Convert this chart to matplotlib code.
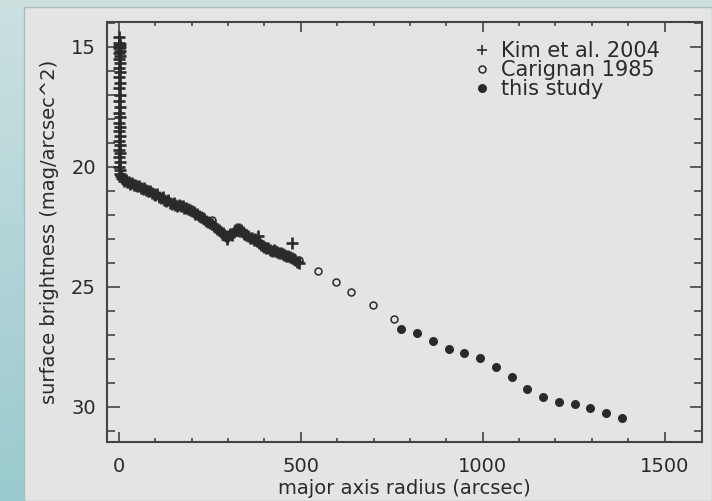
import numpy as np
import matplotlib
matplotlib.use("Agg")
import matplotlib.pyplot as plt
from matplotlib.patches import Rectangle

# Kim et al. 2004: steep central spike at r ~ 0
kim_core_r = [0.5, 1, 2, 0, 1.5, 1, 2, 1, 2, 1, 2, 1, 2, 1, 2, 1, 2, 1, 2, 1,
              2, 1, 2, 1, 2, 1, 2, 1, 2, 1, 2]
kim_core_mu = [14.6, 14.85, 14.9, 14.95, 15.0, 15.05, 15.17, 15.28, 15.39, 15.53,
               15.69, 15.9, 16.04, 16.25, 16.5, 16.73, 17.01, 17.25, 17.5, 17.75,
               17.94, 18.17, 18.33, 18.5, 18.72, 18.93, 19.1, 19.3, 19.44, 19.61,
               19.8]
# Kim et al. 2004: main profile
kim_r = [1, 2, 3, 6, 9, 12, 15, 19, 23, 27, 31, 35, 40, 45, 50, 55, 60, 65, 70,
         75, 80, 85, 90, 95, 100, 105, 110, 115, 120, 125, 130, 135, 140, 145,
         150, 155, 160, 165, 170, 175, 180, 185, 190, 195, 200, 205, 210, 215,
         220, 225, 230, 235, 240, 245, 250, 255, 260, 265, 270, 275, 280, 285,
         290, 295, 300, 305, 310, 315, 320, 325, 330, 335, 340, 345, 350, 355,
         360, 365, 370, 375, 380, 385, 390, 395, 400, 405, 410, 415, 420, 425,
         430, 435, 440, 445, 450, 455, 460, 465, 470, 475, 480, 485, 490, 495]
kim_mu = [20.0, 20.14, 20.3, 20.4, 20.45, 20.5, 20.58, 20.55, 20.65, 20.62,
          20.7, 20.68, 20.75, 20.78, 20.82, 20.8, 20.88, 20.92, 20.9, 20.98,
          21.02, 21.0, 21.1, 21.12, 21.18, 21.15, 21.25, 21.3, 21.28, 21.38,
          21.42, 21.4, 21.5, 21.55, 21.52, 21.58, 21.62, 21.58, 21.65, 21.62,
          21.7, 21.72, 21.76, 21.8, 21.85, 21.88, 21.95, 21.98, 22.05, 22.08,
          22.15, 22.18, 22.25, 22.3, 22.35, 22.4, 22.48, 22.52, 22.6, 22.65,
          22.72, 22.78, 22.85, 22.88, 22.9, 22.82, 22.85, 22.72, 22.65, 22.6,
          22.58, 22.65, 22.72, 22.8, 22.85, 22.9, 22.95, 22.98, 23.05, 23.02,
          23.1, 23.18, 23.25, 23.3, 23.35, 23.4, 23.38, 23.45, 23.5, 23.48,
          23.52, 23.55, 23.58, 23.6, 23.62, 23.68, 23.72, 23.7, 23.78, 23.82,
          23.85, 23.88, 23.95, 24.0]
kim_out_r = [477, 382, 298]
kim_out_mu = [23.17, 22.88, 23.0]

# Carignan 1985
car_r = [255, 332, 400, 450, 495, 546, 598, 639, 699, 756]
car_mu = [22.23, 22.78, 23.3, 23.6, 23.9, 24.33, 24.82, 25.23, 25.78, 26.33]

# this study
new_r = [775, 819, 863, 906, 948, 993, 1037, 1080, 1122, 1166, 1210, 1253,
         1296, 1339, 1383]
new_mu = [26.78, 26.92, 27.26, 27.6, 27.75, 27.98, 28.33, 28.76, 29.25, 29.58,
          29.82, 29.89, 30.04, 30.25, 30.46]

W, H = 712, 501
fig = plt.figure(figsize=(W / 100, H / 100), dpi=100)

# pale teal backdrop + grey panel
bg = fig.add_axes([0, 0, 1, 1], zorder=-2)
bg.set_axis_off()
top_c = np.array([0.80, 0.88, 0.88])
bot_c = np.array([0.60, 0.79, 0.81])
t = np.linspace(0, 1, 100)[:, None, None]
img = top_c * (1 - t) + bot_c * t
img = np.repeat(img, 10, axis=1)
bg.imshow(img, aspect="auto", extent=[0, 1, 0, 1], origin="upper")
bg.set_xlim(0, 1)
bg.set_ylim(0, 1)
fig.patches.append(Rectangle((24 / W, 0), 1 - 24 / W, 1 - 7 / H,
                             transform=fig.transFigure, facecolor="#e4e4e4",
                             edgecolor="#b0bcbc", linewidth=1.0, zorder=-1))

ax = fig.add_axes([107 / W, (H - 442) / H, 595 / W, 420 / H])
ax.set_facecolor("#e4e4e4")

ink = "#2a2a2a"
ax.plot(kim_core_r + kim_r + kim_out_r, kim_core_mu + kim_mu + kim_out_mu,
        linestyle="none", marker="+", ms=9, mew=1.9, color=ink,
        label="Kim et al. 2004")
ax.plot(car_r, car_mu, linestyle="none", marker="o", ms=5, mew=1.1,
        mfc="none", mec=ink, label="Carignan 1985")
ax.plot(new_r, new_mu, linestyle="none", marker="o", ms=6.5, mew=0,
        color=ink, label="this study")

ax.set_xlim(-33, 1603)
ax.set_ylim(31.47, 13.97)
ax.set_xticks([0, 500, 1000, 1500])
ax.set_xticks(np.arange(100, 1600, 100), minor=True)
ax.set_yticks([15, 20, 25, 30])
ax.set_yticks(np.arange(14, 32, 1), minor=True)

fs = 14
ax.tick_params(axis="both", which="both", direction="in", color="#444444",
               top=True, right=True, labelsize=fs, labelcolor=ink, width=1.2)
ax.tick_params(axis="x", which="major", length=7, pad=11)
ax.tick_params(axis="x", which="minor", length=3)
ax.tick_params(axis="y", which="major", length=9, pad=8)
ax.tick_params(axis="y", which="minor", length=5.5)
for s in ax.spines.values():
    s.set_color("#444444")
    s.set_linewidth(1.5)

ax.set_xlabel("major axis radius (arcsec)", fontsize=fs, color=ink, labelpad=2)
ax.set_ylabel("surface brightness (mag/arcsec^2)", fontsize=fs, color=ink,
              labelpad=9)

leg = ax.legend(loc="upper left", bbox_to_anchor=(0.598, 0.979), frameon=False,
                fontsize=15, handlelength=0.8, handletextpad=0.55, borderpad=0,
                labelspacing=-0.05, labelcolor=ink)
leg.legend_handles[0].set_markersize(6.5)
leg.legend_handles[0].set_markeredgewidth(1.2)

fig.savefig("out.png", dpi=100)
